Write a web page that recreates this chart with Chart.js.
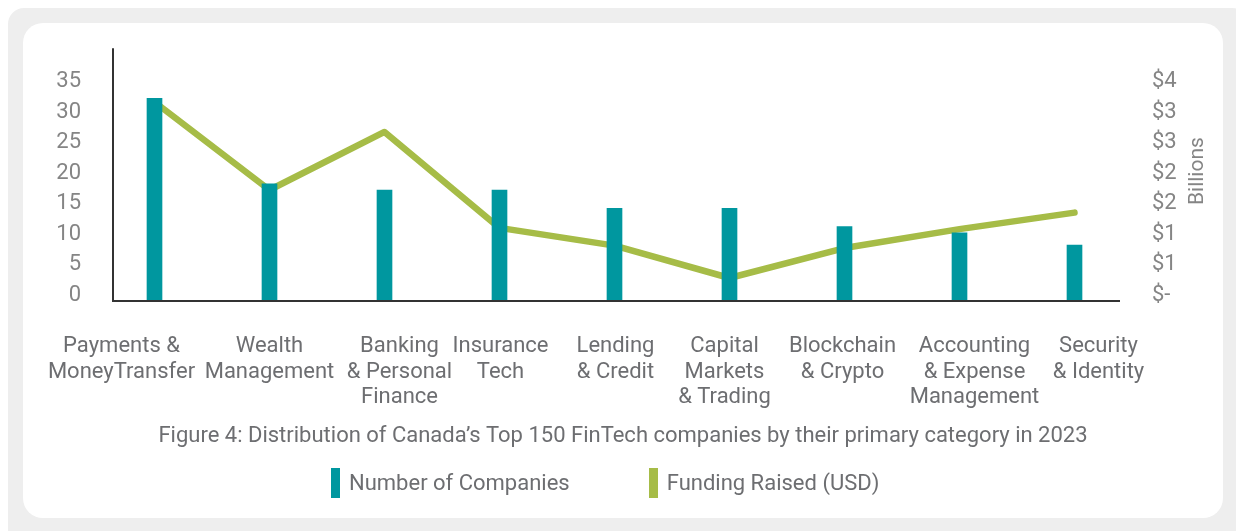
<!DOCTYPE html>
<html>
<head>
<meta charset="utf-8">
<script src="https://cdn.jsdelivr.net/npm/chart.js@4"></script>
<style>
  body { margin: 0; background: #fff; font-family: Roboto, sans-serif; }
  .outer { position: absolute; left: 8px; top: 8px; width: 1240px; height: 540px; background: #eeeeee; border-radius: 16px; }
  .card { position: absolute; left: 23px; top: 23px; width: 1200px; height: 495px; background: #fff; border-radius: 20px; overflow: hidden; }
  #chart { position: absolute; left: 0; top: 0; }
  #legend { position: absolute; left: 308px; top: 445px; display: flex; gap: 79px; font-size: 22px; color: #6d6e71; }
  #legend .item { display: flex; align-items: center; height: 30px; line-height: 30px; white-space: nowrap; }
  #legend .swatch { display: inline-block; width: 9px; height: 30px; margin-right: 9px; }
</style>
</head>
<body>
<div class="outer"></div>
<div class="card">
  <canvas id="chart" width="1200" height="495"></canvas>
  <div id="legend"></div>
</div>
<script>
const categories = [
  ['Payments &', 'MoneyTransfer'],
  ['Wealth', 'Management'],
  ['Banking', '& Personal', 'Finance'],
  ['Insurance', 'Tech'],
  ['Lending', '& Credit'],
  ['Capital', 'Markets', '& Trading'],
  ['Blockchain', '& Crypto'],
  ['Accounting', '& Expense', 'Management'],
  ['Security', '& Identity']
];
const companies = [33, 19, 18, 18, 15, 15, 12, 11, 9];
const funding = [3.24, 1.80, 2.75, 1.18, 0.89, 0.36, 0.85, 1.16, 1.43]; // USD billions
const countTicks = [0, 5, 10, 15, 20, 25, 30, 35];
const fundingTicks = [0, 0.5, 1, 1.5, 2, 2.5, 3, 3.5];
const fundingTickLabels = ['$-', '$1', '$1', '$2', '$2', '$3', '$3', '$4'];
const caption = 'Figure 4: Distribution of Canada\u2019s Top 150 FinTech companies by their primary category in 2023';

const teal = '#00979f';
const green = '#a6bc47';
const axisColor = '#333333';
const tickGrey = '#858585';
const textGrey = '#6d6e71';

// the wrapped category labels sit a bit off their bars in the original
const labelShift = [-33, 0, 15, 1, 1, -5, -2, 15, 24];

Chart.defaults.font.family = 'Roboto';

const extras = {
  id: 'extras',
  afterDatasetsDraw(chart) {
    const {ctx, chartArea: a, scales: {x, y1}} = chart;
    ctx.save();
    // axis lines (inset from the category band like the original)
    ctx.strokeStyle = axisColor;
    ctx.lineWidth = 2;
    ctx.beginPath();
    ctx.moveTo(a.left + 16, a.top);
    ctx.lineTo(a.left + 16, a.bottom + 1);
    ctx.lineTo(a.right - 12, a.bottom + 1);
    ctx.stroke();

    // category labels
    ctx.font = '22px Roboto';
    ctx.fillStyle = textGrey;
    ctx.textAlign = 'center';
    ctx.textBaseline = 'alphabetic';
    categories.forEach((lines, i) => {
      const cx = x.getPixelForValue(i) + labelShift[i];
      lines.forEach((t, j) => ctx.fillText(t, cx, a.bottom + 52 + j * 25.5));
    });

    // right axis title, reading bottom to top
    ctx.font = '21px Roboto';
    ctx.fillStyle = tickGrey;
    ctx.translate(y1.right - 20, (a.top + a.bottom) / 2 - 3);
    ctx.rotate(-Math.PI / 2);
    ctx.fillText('Billions', 0, 0);
    ctx.restore();
  }
};

const chart = new Chart(document.getElementById('chart'), {
  type: 'bar',
  data: {
    labels: categories,
    datasets: [
      {
        type: 'bar',
        label: 'Number of Companies',
        data: companies,
        backgroundColor: teal,
        barThickness: 15,
        yAxisID: 'y',
        order: 0
      },
      {
        type: 'line',
        label: 'Funding Raised (USD)',
        data: funding,
        borderColor: green,
        backgroundColor: green,
        borderWidth: 6.5,
        pointRadius: 0,
        borderCapStyle: 'round',
        borderJoinStyle: 'round',
        tension: 0,
        yAxisID: 'y1',
        order: 1
      }
    ]
  },
  options: {
    responsive: false,
    animation: false,
    layout: { padding: { top: 25, bottom: 50, left: 0, right: 0 } },
    plugins: {
      legend: { display: false },
      tooltip: { enabled: false },
      title: {
        display: true,
        position: 'bottom',
        text: caption,
        color: textGrey,
        font: { size: 22, weight: 'normal' },
        padding: { top: 123.6, bottom: 18 }
      }
    },
    scales: {
      x: { display: false, offset: true },
      y: {
        position: 'left',
        min: 0,
        max: 41.2,
        grid: { display: false },
        border: { display: false },
        afterBuildTicks: s => { s.ticks = countTicks.map(v => ({ value: v })); },
        afterFit: s => { s.width = 74; },
        ticks: { color: tickGrey, font: { size: 22 }, padding: 8, labelOffset: -4.5 }
      },
      y1: {
        position: 'right',
        min: 0,
        max: 4.12,
        grid: { display: false },
        border: { display: false },
        afterBuildTicks: s => { s.ticks = fundingTicks.map(v => ({ value: v })); },
        afterFit: s => { s.width = 91; },
        ticks: {
          color: tickGrey,
          font: { size: 22 },
          padding: 12,
          labelOffset: -4.5,
          callback: (v, i) => fundingTickLabels[i]
        }
      }
    }
  },
  plugins: [extras]
});

// legend as html under the caption
const legendEl = document.getElementById('legend');
chart.data.datasets.forEach(ds => {
  const item = document.createElement('div');
  item.className = 'item';
  const sw = document.createElement('span');
  sw.className = 'swatch';
  sw.style.background = ds.backgroundColor;
  item.appendChild(sw);
  item.appendChild(document.createTextNode(ds.label));
  legendEl.appendChild(item);
});
</script>
</body>
</html>
